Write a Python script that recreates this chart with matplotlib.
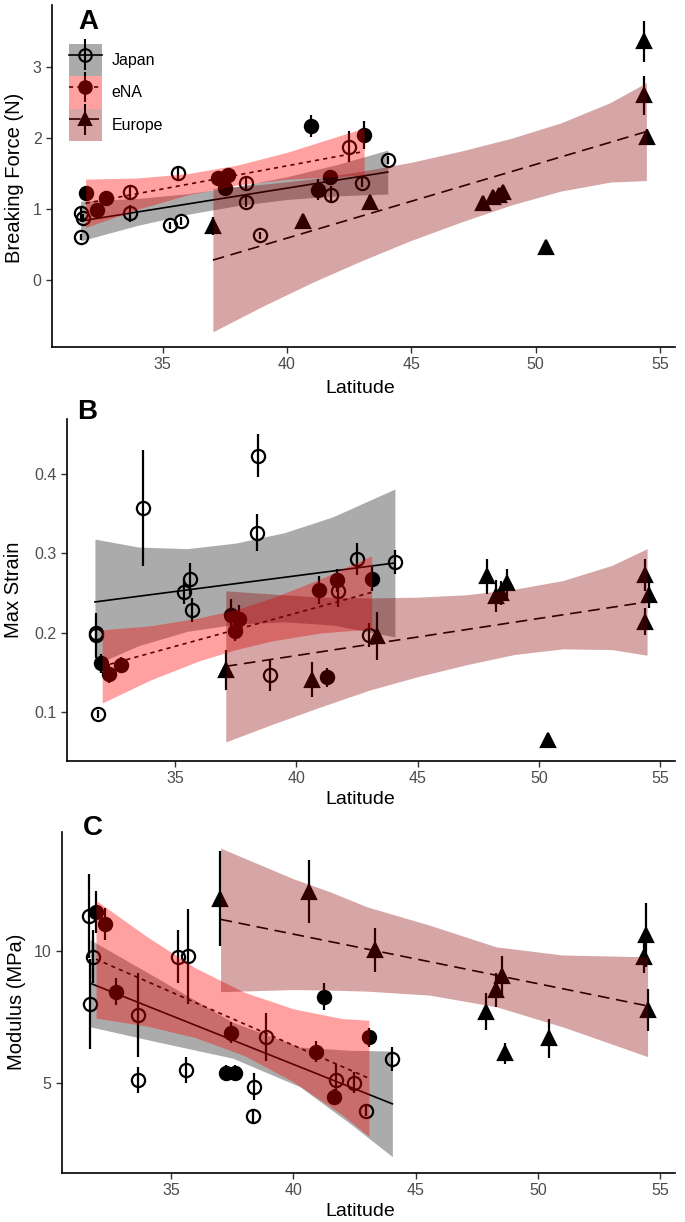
import matplotlib
matplotlib.use('Agg')
import matplotlib.pyplot as plt
from matplotlib.patches import Patch
from matplotlib.legend_handler import HandlerErrorbar

plt.rcParams['font.family'] = ['Liberation Sans', 'DejaVu Sans']

regions = ['Japan', 'eNA', 'Europe']

# ---- A: breaking force (N) ----
bf_lat = [31.73, 31.80, 31.73, 33.67, 33.67, 35.62, 35.28, 35.75, 38.36, 38.36, 38.90, 41.78, 42.51, 43.00, 44.05,
          31.92, 32.34, 32.74, 37.22, 37.62, 37.49, 41.24, 41.71, 40.97, 43.10,
          37.02, 40.63, 43.34, 47.86, 48.27, 48.53, 48.70, 50.43, 54.36, 54.36, 54.49]
bf_val = [0.94, 0.87, 0.61, 1.24, 0.94, 1.50, 0.77, 0.83, 1.36, 1.10, 0.63, 1.20, 1.88, 1.37, 1.69,
          1.22, 0.99, 1.15, 1.43, 1.48, 1.29, 1.27, 1.45, 2.17, 2.04,
          0.76, 0.83, 1.10, 1.08, 1.17, 1.20, 1.24, 0.47, 3.36, 2.60, 2.02]
bf_err = [0.08, 0.06, 0.04, 0.10, 0.12, 0.10, 0.05, 0.05, 0.08, 0.07, 0.05, 0.12, 0.22, 0.06, 0.05,
          0.06, 0.05, 0.05, 0.06, 0.10, 0.08, 0.15, 0.06, 0.15, 0.20,
          0.12, 0.06, 0.10, 0.05, 0.08, 0.06, 0.05, 0.02, 0.29, 0.28, 0.10]
bf_reg = ['Japan'] * 15 + ['eNA'] * 10 + ['Europe'] * 11
bf_fit = {'Japan': ([31.7, 44.05], [0.83, 1.52]),
          'eNA': ([31.9, 43.1], [1.08, 1.81]),
          'Europe': ([37.02, 54.45], [0.28, 2.09])}
bf_band = {'Japan': ([31.7, 34, 36, 38, 40, 42, 44.05],
                     [0.55, 0.77, 0.925, 1.047, 1.134, 1.185, 1.21],
                     [1.11, 1.149, 1.215, 1.317, 1.454, 1.625, 1.83]),
           'eNA': ([31.9, 34, 36, 38, 40, 42, 43.1],
                   [0.74, 0.997, 1.198, 1.338, 1.418, 1.459, 1.48],
                   [1.42, 1.437, 1.498, 1.618, 1.798, 2.019, 2.14]),
           'Europe': ([37.02, 39, 41, 43, 45, 47, 49, 51, 53, 54.45],
                      [-0.73, -0.374, -0.037, 0.271, 0.558, 0.816, 1.054, 1.251, 1.379, 1.40],
                      [1.29, 1.346, 1.423, 1.531, 1.658, 1.816, 1.994, 2.211, 2.499, 2.78])}

# ---- B: max strain ----
ms_lat = [33.68, 38.41, 38.36, 35.63, 35.36, 35.72, 31.76, 31.76, 31.83, 38.93, 41.73, 42.51, 44.06, 43.00,
          31.95, 32.30, 32.79, 37.30, 37.64, 37.48, 41.26, 40.94, 41.66, 43.10,
          37.09, 40.64, 43.33, 47.84, 48.22, 48.43, 48.66, 50.38, 54.36, 54.52, 54.36]
ms_val = [0.357, 0.423, 0.326, 0.268, 0.251, 0.229, 0.197, 0.200, 0.098, 0.147, 0.253, 0.293, 0.289, 0.197,
          0.162, 0.149, 0.160, 0.223, 0.218, 0.202, 0.144, 0.254, 0.266, 0.268,
          0.153, 0.141, 0.196, 0.271, 0.246, 0.250, 0.263, 0.065, 0.273, 0.248, 0.214]
ms_err = [0.073, 0.027, 0.023, 0.020, 0.015, 0.015, 0.028, 0.010, 0.005, 0.020, 0.020, 0.020, 0.015, 0.015,
          0.012, 0.012, 0.010, 0.020, 0.017, 0.012, 0.012, 0.018, 0.015, 0.015,
          0.025, 0.022, 0.030, 0.022, 0.020, 0.015, 0.018, 0.003, 0.020, 0.017, 0.017]
ms_reg = ['Japan'] * 14 + ['eNA'] * 10 + ['Europe'] * 11
ms_fit = {'Japan': ([31.7, 44.06], [0.239, 0.288]),
          'eNA': ([32.0, 43.1], [0.158, 0.251]),
          'Europe': ([37.09, 54.45], [0.158, 0.239])}
ms_band = {'Japan': ([31.7, 33.5, 35.5, 37.5, 39.5, 41.5, 44.06],
                     [0.160, 0.184, 0.202, 0.211, 0.214, 0.210, 0.195],
                     [0.318, 0.308, 0.306, 0.313, 0.326, 0.346, 0.381]),
           'eNA': ([32.0, 34, 36, 37.5, 39, 41, 43.1],
                   [0.112, 0.141, 0.165, 0.179, 0.190, 0.200, 0.205],
                   [0.204, 0.209, 0.219, 0.229, 0.244, 0.268, 0.297]),
           'Europe': ([37.09, 39, 41, 43, 45, 47, 49, 51, 53, 54.45],
                      [0.063, 0.085, 0.107, 0.128, 0.145, 0.160, 0.173, 0.180, 0.179, 0.172],
                      [0.253, 0.249, 0.245, 0.244, 0.245, 0.248, 0.255, 0.266, 0.285, 0.306])}

# ---- C: modulus (MPa) ----
mod_lat = [31.67, 31.80, 31.69, 33.67, 33.67, 35.30, 35.71, 35.61, 38.39, 38.36, 38.90, 41.76, 42.47, 42.99, 44.05,
           31.94, 32.30, 32.76, 37.27, 37.61, 37.44, 40.92, 41.24, 41.65, 43.09,
           37.00, 40.64, 43.33, 47.86, 48.29, 48.53, 48.67, 50.44, 54.42, 54.35, 54.48]
mod_val = [11.33, 9.78, 8.00, 7.58, 5.11, 9.78, 9.81, 5.49, 4.86, 3.75, 6.75, 5.11, 5.01, 3.95, 5.90,
           11.49, 11.02, 8.46, 5.37, 5.39, 6.91, 6.19, 8.27, 4.48, 6.73,
           11.99, 12.25, 10.04, 7.70, 8.52, 9.05, 6.12, 6.69, 10.61, 9.78, 7.77]
mod_err = [1.6, 1.0, 1.7, 1.6, 0.5, 1.0, 1.8, 0.5, 0.5, 0.25, 0.9, 0.6, 0.4, 0.2, 0.45,
           0.8, 0.6, 0.5, 0.3, 0.3, 0.4, 0.4, 0.5, 0.3, 0.35,
           1.8, 1.2, 0.85, 0.7, 0.65, 0.75, 0.4, 0.75, 1.2, 0.6, 0.8]
mod_reg = ['Japan'] * 15 + ['eNA'] * 10 + ['Europe'] * 11
mod_fit = {'Japan': ([31.7, 44.05], [8.78, 4.21]),
           'eNA': ([31.94, 43.09], [9.69, 5.18]),
           'Europe': ([37.03, 54.48], [11.2, 7.92])}
mod_band = {'Japan': ([31.7, 34.43, 37.53, 40.27, 42.3, 44.05],
                      [7.13, 6.56, 5.94, 4.86, 3.48, 2.21],
                      [10.43, 8.98, 7.30, 6.36, 6.24, 6.21]),
            'eNA': ([31.94, 34, 36, 38, 40, 42, 43.09],
                    [7.46, 7.16, 6.72, 6.04, 5.05, 3.80, 2.98],
                    [11.92, 10.56, 9.36, 8.44, 7.81, 7.44, 7.38]),
            'Europe': ([37.03, 40, 41.49, 43, 45.57, 48.29, 51, 54.48],
                       [8.46, 8.54, 8.52, 8.48, 8.33, 7.89, 7.13, 6.0],
                       [13.9, 12.74, 12.25, 11.68, 10.98, 10.16, 9.85, 9.78])}

marker = {'Japan': 'o', 'eNA': 'o', 'Europe': '^'}
face = {'Japan': 'none', 'eNA': 'black', 'Europe': 'black'}
lstyle = {'Japan': '-', 'eNA': (0, (2.5, 2.5)), 'Europe': (0, (7, 4))}
band_col = {'Japan': 'black', 'eNA': '#ff0000', 'Europe': '#8b0000'}
band_alpha = {'Japan': 0.33, 'eNA': 0.37, 'Europe': 0.35}

W, H = 685, 1222
fig = plt.figure(figsize=(W / 100, H / 100), dpi=100)


def add_panel(l, t, r, b):
    return fig.add_axes([l / W, 1 - b / H, (r - l) / W, (b - t) / H])


def draw(ax, lat, val, err, reg, fit, band, ylim, yticks):
    for g in regions:
        xs = [x for x, k in zip(lat, reg) if k == g]
        ys = [y for y, k in zip(val, reg) if k == g]
        es = [e for e, k in zip(err, reg) if k == g]
        ax.errorbar(xs, ys, yerr=es, fmt=marker[g], ms=9.5 if g != 'Europe' else 10,
                    mfc=face[g], mec='black', mew=1.6, ecolor='black',
                    elinewidth=1.6, capsize=0, zorder=2)
        ax.plot(fit[g][0], fit[g][1], color='black', lw=1.2, ls=lstyle[g], zorder=2.5)
    # ribbons go on top, tinting whatever lies under them
    for g in regions:
        bx, lo, hi = band[g]
        ax.fill_between(bx, lo, hi, color=band_col[g], alpha=band_alpha[g], lw=0, zorder=3)
    ax.set_xlim(30.55, 55.6)
    ax.set_ylim(*ylim)
    ax.set_xticks([35, 40, 45, 50, 55])
    ax.set_yticks(yticks)
    ax.set_yticklabels([f'{v:g}' for v in yticks])
    for s in ['top', 'right']:
        ax.spines[s].set_visible(False)
    for s in ['left', 'bottom']:
        ax.spines[s].set_linewidth(1.2)
    ax.tick_params(length=4, width=1, color='#333333', labelcolor='#4d4d4d', labelsize=11.5, pad=3.5)


axA = add_panel(52, 5, 675, 347)
draw(axA, bf_lat, bf_val, bf_err, bf_reg, bf_fit, bf_band, (-0.944, 3.873), [0, 1, 2, 3])
axB = add_panel(67, 419, 675, 761)
draw(axB, ms_lat, ms_val, ms_err, ms_reg, ms_fit, ms_band, (0.039, 0.469), [0.1, 0.2, 0.3, 0.4])
axC = add_panel(62, 832, 675, 1173)
draw(axC, mod_lat, mod_val, mod_err, mod_reg, mod_fit, mod_band, (1.59, 14.51), [5, 10])

# axis titles
for ypx, lab in [(388, 'Latitude'), (799, 'Latitude'), (1211, 'Latitude')]:
    fig.text(360 / W, 1 - ypx / H, lab, ha='center', va='center', fontsize=14)
for xpx, ypx, lab in [(15, 178, 'Breaking Force (N)'), (14, 590, 'Max Strain'), (17, 1002, 'Modulus (MPa)')]:
    fig.text(xpx / W, 1 - ypx / H, lab, ha='center', va='center', rotation=90, fontsize=14.5)
for xpx, ypx, lab in [(88, 22, 'A'), (87, 412, 'B'), (93, 828, 'C')]:
    fig.text(xpx / W, 1 - ypx / H, lab, ha='center', va='center', fontsize=20, fontweight='bold')

# legend: point + error bar + line, with the ribbon laid over it
handles = []
for g in regions:
    eb = axA.errorbar([float('nan')], [float('nan')], yerr=[0.1], fmt=marker[g], ms=9, mfc=face[g],
                      mec='black', mew=1.5, ecolor='black', elinewidth=1.5, color='black',
                      ls=lstyle[g], lw=1.2)
    patch = Patch(facecolor=band_col[g], alpha=band_alpha[g], lw=0)
    handles.append((eb, patch))
axA.legend(handles, regions, loc='upper left', bbox_to_anchor=(69 / W, 1 - 44 / H),
           bbox_transform=fig.transFigure, frameon=False, borderpad=0, borderaxespad=0,
           labelspacing=0, handlelength=2.05, handleheight=2.75, handletextpad=0.6,
           numpoints=1, fontsize=11.5,
           handler_map={type(handles[0][0]): HandlerErrorbar(yerr_size=0.95)})

fig.savefig('out.png', dpi=100)
